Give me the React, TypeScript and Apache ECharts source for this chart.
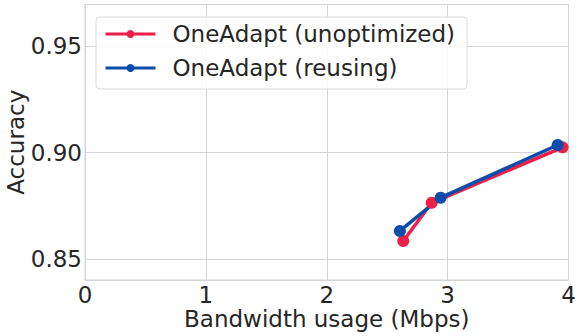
import React, { useEffect, useRef } from "react";
import * as echarts from "echarts";

const seriesNames = ["OneAdapt (unoptimized)", "OneAdapt (reusing)"];
const unoptimizedX = [2.633, 2.868, 3.951];
const unoptimizedY = [0.8586, 0.8765, 0.9025];
const reusingX = [2.605, 2.942, 3.91];
const reusingY = [0.8633, 0.8789, 0.9036];
const colors = ["#ee1f48", "#0b4dab"];

const font = "DejaVu Sans";
const textColor = "#262626";
const fs = 23;

export default function App() {
  const ref = useRef<HTMLDivElement>(null);
  useEffect(() => {
    if (!ref.current) return;
    const chart = echarts.init(ref.current, undefined, { renderer: "svg" });
    const mk = (xs: number[], ys: number[]) => xs.map((x, i) => [x, ys[i]]);
    chart.setOption({
      animation: false,
      backgroundColor: "#ffffff",
      grid: {
        left: 85,
        right: 12.5,
        top: 4.5,
        bottom: 56,
        containLabel: false,
        outerBoundsMode: "none",
        show: true,
        borderColor: "#d4d4d4",
        borderWidth: 1,
      },
      legend: {
        left: 96,
        top: 17,
        orient: "vertical",
        padding: [5, 12, 9, 8],
        itemWidth: 50,
        itemHeight: 10,
        itemGap: 10,
        backgroundColor: "rgba(255,255,255,0.85)",
        borderColor: "#dcdcdc",
        borderWidth: 1,
        borderRadius: 4,
        lineStyle: { width: 3 },
        textStyle: {
          fontFamily: font,
          fontSize: fs,
          color: textColor,
          lineHeight: 24,
          padding: [0, 0, 0, 12],
        },
        data: seriesNames,
      },
      xAxis: {
        type: "value",
        min: 0,
        max: 4,
        interval: 1,
        name: "Bandwidth usage (Mbps)",
        nameLocation: "middle",
        nameGap: 27,
        nameMoveOverlap: false,
        nameTextStyle: { fontFamily: font, fontSize: fs, color: textColor },
        axisLine: { show: false },
        axisTick: { show: false },
        axisLabel: { fontFamily: font, fontSize: fs, color: textColor, margin: 3 },
        splitLine: { show: true, lineStyle: { color: "#d4d4d4", width: 1 } },
      },
      yAxis: {
        type: "value",
        min: 0.8403,
        max: 0.9695,
        splitNumber: 3,
        minInterval: 0.05,
        maxInterval: 0.05,
        name: "Accuracy",
        nameLocation: "middle",
        nameGap: 58,
        nameMoveOverlap: false,
        nameTextStyle: { fontFamily: font, fontSize: fs, color: textColor },
        axisLine: { show: false },
        axisTick: { show: false },
        axisLabel: {
          fontFamily: font,
          fontSize: fs,
          color: textColor,
          margin: 3,
          showMinLabel: false,
          showMaxLabel: false,
          formatter: (v: number) => v.toFixed(2),
        },
        splitLine: { show: true, lineStyle: { color: "#d4d4d4", width: 1 } },
      },
      series: [
        {
          name: seriesNames[0],
          type: "line",
          data: mk(unoptimizedX, unoptimizedY),
          symbol: "circle",
          symbolSize: 12,
          lineStyle: { width: 3.5, color: colors[0] },
          itemStyle: { color: colors[0] },
        },
        {
          name: seriesNames[1],
          type: "line",
          data: mk(reusingX, reusingY),
          symbol: "circle",
          symbolSize: 12,
          lineStyle: { width: 3.5, color: colors[1] },
          itemStyle: { color: colors[1] },
        },
      ],
    });
    return () => chart.dispose();
  }, []);
  return <div ref={ref} style={{ width: 581, height: 336, position: "absolute", left: 0, top: 0 }} />;
}
